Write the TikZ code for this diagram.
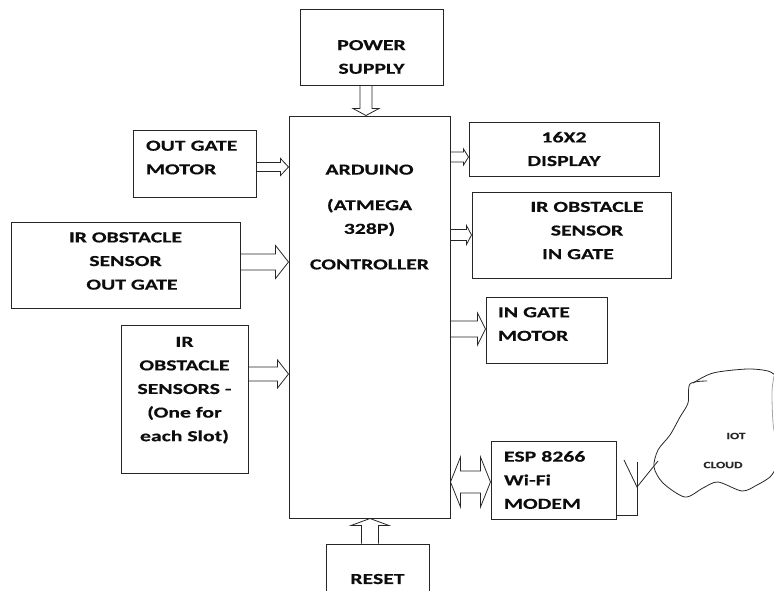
\documentclass[tikz,border=0pt]{standalone}
\usepackage{fontspec}
\usetikzlibrary{calc}
\newfontfamily\blockfont[FakeStretch=1.42,FakeBold=0.35,UprightFont=* Bold]{Carlito}
\newcommand{\padup}[1]{\rule[-#1pt]{0pt}{#1pt}}
\newcommand{\paddown}[1]{\rule{0pt}{#1pt}}

\begin{document}
\begin{tikzpicture}[x=1pt, y=-1pt,
	blockbox/.style={draw=black!85, line width=1pt, inner xsep=0pt, inner ysep=0pt, align=center, text=black!95,
		font=\blockfont\fontsize{15.3}{23.6}\selectfont},
	cloudtext/.style={text=black!85, font=\blockfont\fontsize{9.5}{11}\selectfont},
	sketch/.style={draw=black!85, line width=0.8pt},
	hollow/.style n args={3}{sketch, to path={
		($(\tikztostart)!#1pt!90:(\tikztotarget)$) -- ($(\tikztotarget)!#3pt!(\tikztostart)!#1pt!90:(\tikztotarget)$)
		-- ($(\tikztotarget)!#3pt!(\tikztostart)!#2pt!90:(\tikztotarget)$) -- (\tikztotarget)
		-- ($(\tikztotarget)!#3pt!(\tikztostart)!#2pt!-90:(\tikztotarget)$) -- ($(\tikztotarget)!#3pt!(\tikztostart)!#1pt!-90:(\tikztotarget)$)
		-- ($(\tikztostart)!#1pt!-90:(\tikztotarget)$)}},
	hollowboth/.style n args={3}{sketch, to path={
		(\tikztostart) -- ($(\tikztostart)!#3pt!(\tikztotarget)!#2pt!90:(\tikztotarget)$) -- ($(\tikztostart)!#3pt!(\tikztotarget)!#1pt!90:(\tikztotarget)$)
		-- ($(\tikztotarget)!#3pt!(\tikztostart)!#1pt!90:(\tikztotarget)$) -- ($(\tikztotarget)!#3pt!(\tikztostart)!#2pt!90:(\tikztotarget)$) -- (\tikztotarget)
		-- ($(\tikztotarget)!#3pt!(\tikztostart)!#2pt!-90:(\tikztotarget)$) -- ($(\tikztotarget)!#3pt!(\tikztostart)!#1pt!-90:(\tikztotarget)$)
		-- ($(\tikztostart)!#3pt!(\tikztotarget)!#1pt!-90:(\tikztotarget)$) -- ($(\tikztostart)!#3pt!(\tikztotarget)!#2pt!-90:(\tikztotarget)$) -- (\tikztostart)}}]
	\clip (0,0) rectangle (774,590);
	% blocks
	\node[blockbox, minimum width=143pt, minimum height=76pt] (power) at (371.5,47) {\paddown{30}POWER\\SUPPLY};
	\node[blockbox, minimum width=161pt, minimum height=402pt] (arduino) at (369.5,317) {ARDUINO\\[12pt](ATMEGA\\328P)\\[12pt]CONTROLLER\padup{200}};
	\node[blockbox, text width=97pt, inner xsep=13pt, align=left, minimum height=67pt] (outmotor) at (194.5,163.5) {OUT GATE\\MOTOR\padup{12}};
	\node[blockbox, minimum width=229pt, minimum height=86pt] (irout) at (125.5,265) {IR OBSTACLE\\SENSOR\\\hspace*{13pt}OUT GATE\padup{8}};
	\node[blockbox, minimum width=127pt, minimum height=148pt] (irslots) at (184.5,399) {IR\\OBSTACLE\\SENSORS -\\(One for\\each Slot)\padup{20}};
	\node[blockbox, minimum width=190pt, minimum height=54pt] (display) at (564,149) {16X2\\DISPLAY};
	\node[blockbox, minimum width=199pt, minimum height=86pt] (irin) at (571.5,235) {\hspace*{31pt}IR OBSTACLE\\\hspace*{31pt}SENSOR\\\hspace*{13pt}IN GATE\padup{9}};
	\node[blockbox, text width=97pt, inner xsep=12pt, align=left, minimum height=66pt] (inmotor) at (546.5,330) {IN GATE\\MOTOR\padup{12}};
	\node[blockbox, text width=99pt, inner xsep=13pt, align=left, minimum height=78pt] (esp) at (553.5,480) {ESP 8266\\Wi-Fi\\MODEM};
	\node[blockbox, minimum width=103pt, minimum height=70pt] (reset) at (377.5,579) {RESET};
	% block arrows
	\draw[hollow={6}{13}{7}] (power.south -| 366,0) to (arduino.north -| 366,0);
	\draw[hollow={4.5}{8.5}{8}] (outmotor.east |- 0,167) to (arduino.west |- 0,167);
	\draw[hollow={8}{16.5}{13}] (irout.east |- 0,262) to (arduino.west |- 0,262);
	\draw[hollow={7}{14}{11}] (irslots.east |- 0,374) to (arduino.west |- 0,374);
	\draw[hollow={5}{8}{5}] (arduino.east |- 0,157) to (display.west |- 0,157);
	\draw[hollow={5.5}{9.5}{5}] (arduino.east |- 0,235) to (irin.west |- 0,235);
	\draw[hollow={8}{16}{8}] (arduino.east |- 0,329) to (inmotor.west |- 0,329);
	\draw[hollowboth={11}{25}{10}] (arduino.east |- 0,482) to (esp.west |- 0,482);
	\draw[hollow={8.5}{19}{7}] (reset.north -| 370,0) to (arduino.south -| 370,0);
	% antenna
	\coordinate (antfoot) at (637,515);
	\coordinate (antfork) at (637,487);
	\draw[sketch] (esp.east |- antfoot) -- (antfoot) -- (637,462);
	\draw[sketch] (624,460) -- (antfork) -- (658,461);
	% cloud
	\draw[sketch] plot[smooth, tension=0.5] coordinates {(707,381) (690,384) (688,403) (680,417) (670,435) (658,450) (654,467) (663,483) (685,497) (703,488) (718,482) (742,491) (757,485) (770,477) (776,468)};
	\draw[sketch] plot[smooth, tension=0.5] coordinates {(693,383) (713,373) (747,369) (768,371) (776,376)};
	\draw[sketch, draw=black!35] plot[smooth, tension=0.5] coordinates {(774,376) (772,392) (773,423) (776,440)};
	\node[cloudtext] (iot) at (736,436) {IOT};
	\node[cloudtext] (cloud) at (723,465) {CLOUD};
\end{tikzpicture}
\end{document}
